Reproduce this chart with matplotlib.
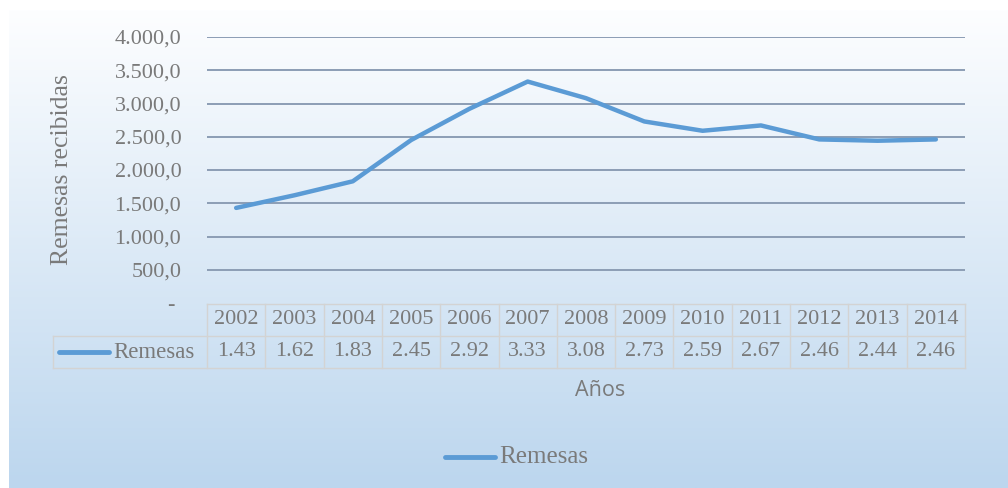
import numpy as np
import matplotlib.pyplot as plt
from matplotlib.lines import Line2D
from matplotlib.transforms import blended_transform_factory

# data
years = ['2002', '2003', '2004', '2005', '2006', '2007', '2008',
         '2009', '2010', '2011', '2012', '2013', '2014']
remesas = [1430, 1620, 1830, 2450, 2920, 3330, 3080,
           2730, 2590, 2670, 2460, 2440, 2460]
yticks = [0, 500, 1000, 1500, 2000, 2500, 3000, 3500, 4000]

W, H = 1008, 488
serif = 'Liberation Serif'
txt = '#7a7a7a'
blue = '#5b9bd5'
cell = '#d3d3d3'


def fx(px):
    return px / W


def fy(py):
    return 1 - py / H


def fmt(v):
    if v == 0:
        return '- '
    s = f"{v:,.1f}"
    return s.replace(',', 'X').replace('.', ',').replace('X', '.')


fig = plt.figure(figsize=(W / 100, H / 100), dpi=100)
fig.patch.set_facecolor('white')

# gradient background of the chart area
bg = fig.add_axes([fx(9), 0, 1 - fx(9), fy(10)])
top = np.array([253, 254, 255]) / 255
bot = np.array([188, 214, 238]) / 255
t = np.linspace(0, 1, 256)[:, None]
grad = top + (bot - top) * t
bg.imshow(grad[:, None, :].repeat(2, axis=1), aspect='auto',
          extent=[0, 1, 0, 1], interpolation='bilinear')
bg.axis('off')

# plot area
x0, x1 = 207, 965
y_top, y_zero = 37, 303
ax = fig.add_axes([fx(x0), fy(y_zero), fx(x1) - fx(x0), fy(y_top) - fy(y_zero)])
ax.set_facecolor('none')
ax.set_xlim(-0.5, len(years) - 0.5)
ax.set_ylim(0, 4000)
ax.set_yticks(yticks)
ax.set_yticklabels([fmt(v) for v in yticks], fontfamily=serif, fontsize=16, color=txt)
ax.tick_params(axis='y', length=0, pad=18.5)
ax.set_xticks([])
for s in ax.spines.values():
    s.set_visible(False)
for v in yticks[1:]:
    ax.axhline(v, color='#8c9db5', lw=1.4, zorder=1)

xs = np.arange(len(years))
ax.plot(xs, remesas, color=blue, lw=3.2, solid_capstyle='round',
        solid_joinstyle='round', zorder=3, clip_on=False)

fig.text(fx(62), fy(170), 'Remesas recibidas', rotation=90, ha='center', va='center',
         fontfamily=serif, fontsize=18.5, color=txt)

# data table under the axis
tr = blended_transform_factory(ax.transData, fig.transFigure)
r0, r1, r2 = 304, 336, 368
lw_c = 1.0
for i in range(len(years) + 1):
    ax.add_line(Line2D([i - 0.5, i - 0.5], [fy(r0), fy(r2)], transform=tr,
                       color=cell, lw=lw_c, clip_on=False))
ax.add_line(Line2D([-0.5, len(years) - 0.5], [fy(r0), fy(r0)], transform=tr,
                   color=cell, lw=lw_c, clip_on=False))
for r in (r1, r2):
    fig.add_artist(Line2D([fx(53), fx(x1)], [fy(r), fy(r)], color=cell, lw=lw_c))
fig.add_artist(Line2D([fx(53), fx(53)], [fy(r1), fy(r2)], color=cell, lw=lw_c))

for i, (yr, v) in enumerate(zip(years, remesas)):
    ax.text(i, fy((r0 + r1) / 2), yr, transform=tr, ha='center', va='center',
            fontfamily=serif, fontsize=16, color=txt)
    ax.text(i, fy((r1 + r2) / 2), f"{v / 1000:.2f}", transform=tr, ha='center',
            va='center', fontfamily=serif, fontsize=16, color=txt)

fig.add_artist(Line2D([fx(59), fx(109)], [fy(352), fy(352)], color=blue, lw=3.5,
                      solid_capstyle='round'))
fig.text(fx(113), fy(352), 'Remesas', ha='left', va='center',
         fontfamily=serif, fontsize=16.5, color=txt)

fig.text(fx(600), fy(390), 'Años', ha='center', va='center',
         fontfamily='Open Sans', fontsize=15.5, color=txt)

# legend
fig.add_artist(Line2D([fx(445), fx(495)], [fy(457), fy(457)], color=blue, lw=3.5,
                      solid_capstyle='round'))
fig.text(fx(499), fy(457), 'Remesas', ha='left', va='center',
         fontfamily=serif, fontsize=18, color=txt)

fig.savefig('out.png', dpi=100)
